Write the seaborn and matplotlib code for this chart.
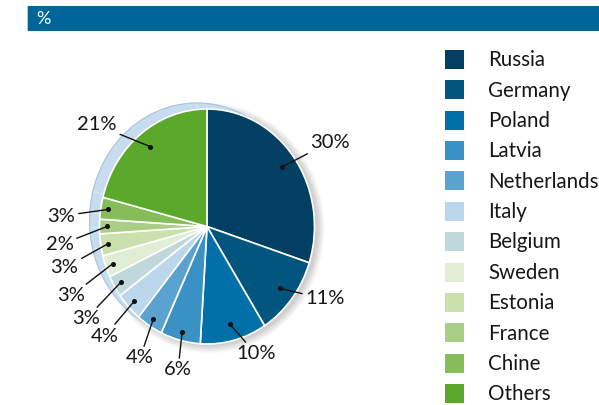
import numpy as np
import pandas as pd
import matplotlib
matplotlib.use("Agg")
import matplotlib.pyplot as plt
import seaborn as sns
from matplotlib.patches import Rectangle, Ellipse

# ---- data ----
categories = ["Russia", "Germany", "Poland", "Latvia", "Netherlands", "Italy",
              "Belgium", "Sweden", "Estonia", "France", "Chine", "Others"]
shares = [30, 11, 10, 6, 4, 4, 3, 3, 3, 2, 3, 21]
pct_labels = [f"{v}%" for v in shares]
header_text = "%"

# ---- style ----
colors = ["#033f63", "#02557e", "#0170a8", "#3a91c4", "#5aa2cf", "#bcd6ec",
          "#c0d8dc", "#e0eed6", "#c9e1ad", "#a9cf86", "#85bd58", "#5aa92a"]
# label anchor positions (in pie-radius units)
label_pos = [(1.144, 0.719), (1.098, -0.617), (0.456, -1.085), (-0.270, -1.221),
             (-0.623, -1.119), (-0.949, -0.932), (-1.126, -0.787), (-1.265, -0.591),
             (-1.326, -0.353), (-1.372, -0.157), (-1.353, 0.089), (-1.023, 0.864)]

sns.set_theme(style="white")
plt.rcParams["font.family"] = ["Lato", "DejaVu Sans"]

W, H = 599, 405
CX, CY, RX, RY = 207, 226.5, 107.5, 117.5

fig = plt.figure(figsize=(W / 100, H / 100), dpi=100)
fig.patch.set_facecolor("white")

ax = fig.add_axes([0, 0, 1, 1])
df = pd.DataFrame({"country": categories, "share": shares, "color": colors})

# soft drop shadow on the right
for i in range(8):
    ax.add_patch(Ellipse((0.03, -0.015), 2 + 0.018 * i, 2 + 0.018 * i,
                         facecolor="black", edgecolor="none", alpha=0.022, zorder=0))

# 3D rim behind the pie
ox, oy = -10 / RX, 6 / RY
ax.pie(df["share"], colors=["#c8dcef"] * len(df), startangle=90, counterclock=False,
       center=(ox, oy), radius=1.0,
       wedgeprops=dict(edgecolor="#dce8f4", linewidth=0.8, zorder=1))
ax.add_patch(Ellipse((ox, oy), 2, 2, facecolor="none", edgecolor="#a9c2da",
                     linewidth=0.8, zorder=1.5))

# main pie
wedges, _ = ax.pie(df["share"], colors=df["color"], startangle=90, counterclock=False,
                   radius=1.0, wedgeprops=dict(edgecolor="white", linewidth=1.2, zorder=2))

ax.set_aspect("auto")
ax.set_xlim(-CX / RX, (W - CX) / RX)
ax.set_ylim(-(H - CY) / RY, CY / RY)
ax.axis("off")

for w, lab, pos, v in zip(wedges, pct_labels, label_pos, df["share"]):
    th = np.deg2rad((w.theta1 + w.theta2) / 2)
    r = 0.86 if v >= 10 else 0.93
    dot = (r * np.cos(th), r * np.sin(th))
    ax.plot([dot[0]], [dot[1]], "o", ms=2.6, color="#111111", zorder=4)
    ax.annotate(lab, xy=dot, xytext=pos, ha="center", va="center",
                fontsize=14.5, color="#161616", zorder=5,
                arrowprops=dict(arrowstyle="-", color="#111111", lw=1.0,
                                shrinkA=0, shrinkB=0))

# overlay for header and legend (pixel coordinates)
ov = fig.add_axes([0, 0, 1, 1])
ov.patch.set_alpha(0)
ov.set_xlim(0, W)
ov.set_ylim(H, 0)
ov.axis("off")

ov.add_patch(Rectangle((28, 6), W - 28, 25, facecolor="#00669a", edgecolor="none"))
ov.add_patch(Rectangle((27, 6), 1.2, 25, facecolor="#b8c8d4", edgecolor="none"))
ov.text(36, 19, header_text, color="white", fontsize=13, ha="left", va="center")

y0, dy = 59.5, 30.36
for i, (name, c) in enumerate(zip(df["country"], df["color"])):
    y = y0 + i * dy
    ov.add_patch(Rectangle((445, y - 9.5), 19, 19, facecolor=c, edgecolor="none"))
    ov.text(488, y + 6.8, name, fontsize=14.8, color="#161616", ha="left", va="baseline")

fig.savefig("out.png", dpi=100)
